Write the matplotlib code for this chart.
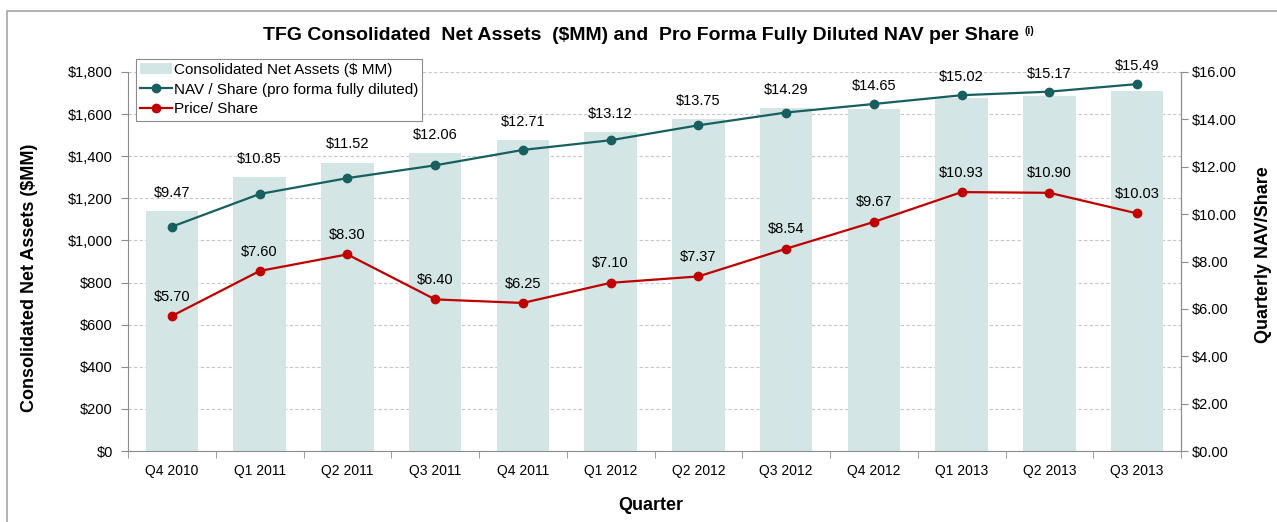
import numpy as np
import matplotlib.pyplot as plt
from matplotlib.patches import Rectangle
from matplotlib.ticker import FuncFormatter

plt.rcParams['font.family'] = ['Liberation Sans', 'DejaVu Sans']

quarters = ['Q4 2010', 'Q1 2011', 'Q2 2011', 'Q3 2011', 'Q4 2011', 'Q1 2012',
            'Q2 2012', 'Q3 2012', 'Q4 2012', 'Q1 2013', 'Q2 2013', 'Q3 2013']
net_assets = [1140, 1300, 1370, 1415, 1475, 1515, 1578, 1630, 1625, 1675, 1685, 1710]
nav_share = [9.47, 10.85, 11.52, 12.06, 12.71, 13.12, 13.75, 14.29, 14.65, 15.02, 15.17, 15.49]
price_share = [5.70, 7.60, 8.30, 6.40, 6.25, 7.10, 7.37, 8.54, 9.67, 10.93, 10.90, 10.03]

W, H = 1277, 522
bar_color = '#d3e5e4'
nav_color = '#17605f'
price_color = '#c00000'
axis_gray = '#8c8c8c'


def make_chart():
    fig = plt.figure(figsize=(W / 100, H / 100), dpi=100)
    ax = fig.add_axes([128 / W, 1 - 451 / H, (1181 - 128) / W, (451 - 72) / H])
    x = np.arange(len(quarters))

    # bars - left axis
    ax.bar(x, net_assets, width=0.6, color=bar_color, zorder=2,
           label='Consolidated Net Assets ($ MM)')
    ax.set_ylim(0, 1800)
    ax.set_xlim(-0.5, len(quarters) - 0.5)
    ax.set_yticks(range(0, 1801, 200))
    ax.yaxis.set_major_formatter(FuncFormatter(lambda v, p: '${:,.0f}'.format(v)))
    ax.grid(axis='y', color='#c8c8c8', linestyle=(0, (3, 2)), linewidth=0.8)
    ax.set_axisbelow(True)
    ax.set_xticks(x)
    ax.set_xticklabels(quarters)
    ax.set_xticks(np.arange(-0.5, len(quarters)), minor=True)
    ax.tick_params(axis='x', which='major', length=0, pad=9, labelsize=10)
    ax.tick_params(axis='x', which='minor', length=5, color=axis_gray)
    ax.tick_params(axis='y', length=5, color=axis_gray, pad=6, labelsize=10.5)
    for s in ['left', 'bottom', 'right']:
        ax.spines[s].set_color(axis_gray)
    ax.spines['top'].set_visible(False)

    # lines - right axis
    ax2 = ax.twinx()
    ax2.set_ylim(0, 16)
    ax2.set_yticks(np.arange(0, 16.1, 2))
    ax2.yaxis.set_major_formatter(FuncFormatter(lambda v, p: '${:.2f}'.format(v)))
    ax2.tick_params(axis='y', length=5, color=axis_gray, pad=3, labelsize=10.5)
    ax2.spines['right'].set_color(axis_gray)
    ax2.spines['left'].set_visible(False)
    ax2.spines['bottom'].set_visible(False)
    ax2.spines['top'].set_visible(False)

    ax2.plot(x, nav_share, color=nav_color, marker='o', lw=1.6, ms=6,
             label='NAV / Share (pro forma fully diluted)')
    ax2.plot(x, price_share, color=price_color, marker='o', lw=1.6, ms=6,
             label='Price/ Share')

    # value labels
    ratio = 1800 / 16
    for i in range(len(quarters)):
        top = max(nav_share[i], net_assets[i] / ratio)
        ax2.annotate('${:.2f}'.format(nav_share[i]), (x[i], top), xytext=(0, 13),
                     textcoords='offset points', ha='center', va='center', fontsize=10.5)
        ax2.annotate('${:.2f}'.format(price_share[i]), (x[i], price_share[i]), xytext=(0, 14),
                     textcoords='offset points', ha='center', va='center', fontsize=10.5)

    # legend
    h1, l1 = ax.get_legend_handles_labels()
    h2, l2 = ax2.get_legend_handles_labels()
    leg = ax2.legend(h1 + h2, l1 + l2, loc='upper left',
                     bbox_to_anchor=((136 - 128) / 1053, (451 - 59) / 379),
                     fontsize=11, frameon=True, fancybox=False, framealpha=1,
                     edgecolor=axis_gray, borderaxespad=0, borderpad=0.27,
                     labelspacing=0.37, handlelength=2.1, handletextpad=0.1)
    leg.get_frame().set_linewidth(0.8)

    # titles and axis labels
    title = fig.text(641 / W, 1 - 35 / H,
                     'TFG Consolidated  Net Assets  ($MM) and  Pro Forma Fully Diluted NAV per Share',
                     ha='center', va='center', fontsize=14, fontweight='bold')
    fig.canvas.draw()
    ax2.annotate('(i)', xy=(1, 1), xycoords=title, xytext=(4, 0), textcoords='offset points',
                 ha='left', va='top', fontsize=7.5, fontweight='bold')
    fig.text(30 / W, 1 - 278 / H, 'Consolidated Net Assets ($MM)', rotation=90,
             ha='center', va='center', fontsize=13, fontweight='bold')
    fig.text(1264 / W, 1 - 255 / H, 'Quarterly NAV/Share', rotation=90,
             ha='center', va='center', fontsize=13, fontweight='bold')
    fig.text(651 / W, 1 - 505 / H, 'Quarter', ha='center', va='center',
             fontsize=13, fontweight='bold')

    # outer frame
    fig.patches.append(Rectangle((7 / W, -0.1), 1.2, 1 - 11 / H + 0.1, transform=fig.transFigure,
                                 fill=False, edgecolor='#a6a6a6', lw=1.2))

    fig.savefig('out.png', dpi=100)


def run():
    make_chart()


if __name__ == '__main__':
    run()
